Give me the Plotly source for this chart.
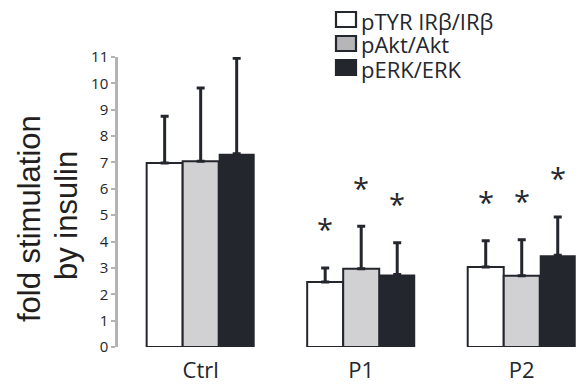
import plotly.graph_objects as go

# ---- data -------------------------------------------------------------
groups = ["Ctrl", "P1", "P2"]
series_names = ["pTYR IRβ/IRβ", "pAkt/Akt", "pERK/ERK"]

ptyr_mean = [6.98, 2.47, 3.03]
akt_mean = [7.05, 2.97, 2.70]
erk_mean = [7.33, 2.75, 3.48]

ptyr_sd = [1.77, 0.53, 1.00]
akt_sd = [2.77, 1.61, 1.37]
erk_sd = [3.62, 1.20, 1.45]

# significance vs. control
ptyr_sig = [False, True, True]
akt_sig = [False, True, True]
erk_sig = [False, True, True]

y_ticks = list(range(0, 12))

# ---- style ------------------------------------------------------------
W, H = 580, 389
ML, MR, MT, MB = 118, 0, 57, 42
DARK = "#23262d"
AXIS_GREY = "#b3b3b3"
fills = ["#ffffff", "#d1d1d3", DARK]
legend_fills = ["#ffffff", "#b6b6b9", DARK]
outline_w = [2, 2, 0]
FONT = "Open Sans, Noto Sans, sans-serif"
BARGAP = 0.327

means = [ptyr_mean, akt_mean, erk_mean]
sds = [ptyr_sd, akt_sd, erk_sd]
sigs = [ptyr_sig, akt_sig, erk_sig]

plot_w = W - ML - MR
plot_h = H - MT - MB


def paper_x(px):
    return (px - ML) / plot_w


def paper_y(py):
    return (H - MB - py) / plot_h


fig = go.Figure()
for name, m, s, col, lw in zip(series_names, means, sds, fills, outline_w):
    fig.add_trace(go.Bar(
        name=name, x=groups, y=m,
        marker=dict(color=col, line=dict(color=DARK, width=lw)),
        error_y=dict(type="data", array=s, arrayminus=[0] * len(s),
                     symmetric=False, color=DARK, thickness=3, width=4),
        showlegend=False,
    ))

# significance asterisks above each bar's error bar
bar_w = (1 - BARGAP) / len(series_names)
for k, (m, s, sig) in enumerate(zip(means, sds, sigs)):
    off = (k - (len(series_names) - 1) / 2) * bar_w
    for i, flag in enumerate(sig):
        if flag:
            fig.add_annotation(
                x=i + off, y=m[i] + s[i] + 1.6, xref="x", yref="y",
                text="*", showarrow=False, yshift=-3,
                font=dict(family=FONT, size=29, color=DARK),
            )

# legend drawn as boxes + labels in the upper right
legend_rows = [19.5, 43.5, 67.5]
for name, col, cy in zip(series_names, legend_fills, legend_rows):
    fig.add_shape(type="rect", xref="paper", yref="paper",
                  x0=paper_x(336), x1=paper_x(356),
                  y0=paper_y(cy - 7.5), y1=paper_y(cy + 7.5),
                  fillcolor=col, line=dict(color=DARK, width=2.2))
    fig.add_annotation(x=paper_x(359), y=paper_y(cy + 1), xref="paper", yref="paper",
                       text=name, showarrow=False, xanchor="left", yanchor="middle",
                       font=dict(family=FONT, size=22, color=DARK))

# two-line y-axis title
for txt, cx, cy in [("fold stimulation", 29, 219), ("by insulin", 66, 216)]:
    fig.add_annotation(x=paper_x(cx), y=paper_y(cy), xref="paper", yref="paper",
                       text=txt, textangle=-90, showarrow=False,
                       xanchor="center", yanchor="middle",
                       font=dict(family="Liberation Sans, Arial, sans-serif",
                                 size=31, color="#231f20"))

fig.update_layout(
    width=W, height=H,
    margin=dict(l=ML, r=MR, t=MT, b=MB, pad=0),
    paper_bgcolor="white", plot_bgcolor="white",
    barmode="group", bargap=BARGAP, bargroupgap=0,
    showlegend=False,
    xaxis=dict(type="category", range=[-0.515, 2.363], showline=False,
               showgrid=False, zeroline=False, ticks="",
               ticklabelstandoff=8,
               tickfont=dict(family=FONT, size=22, color=DARK)),
    yaxis=dict(range=[0, 11], tickvals=y_ticks, showline=True,
               linecolor=AXIS_GREY, linewidth=2.5, ticks="outside",
               ticklen=4, tickwidth=1.5, tickcolor=AXIS_GREY,
               showgrid=False, zeroline=False,
               tickfont=dict(family=FONT, size=15, color=DARK)),
)

fig.write_html("out.html")
